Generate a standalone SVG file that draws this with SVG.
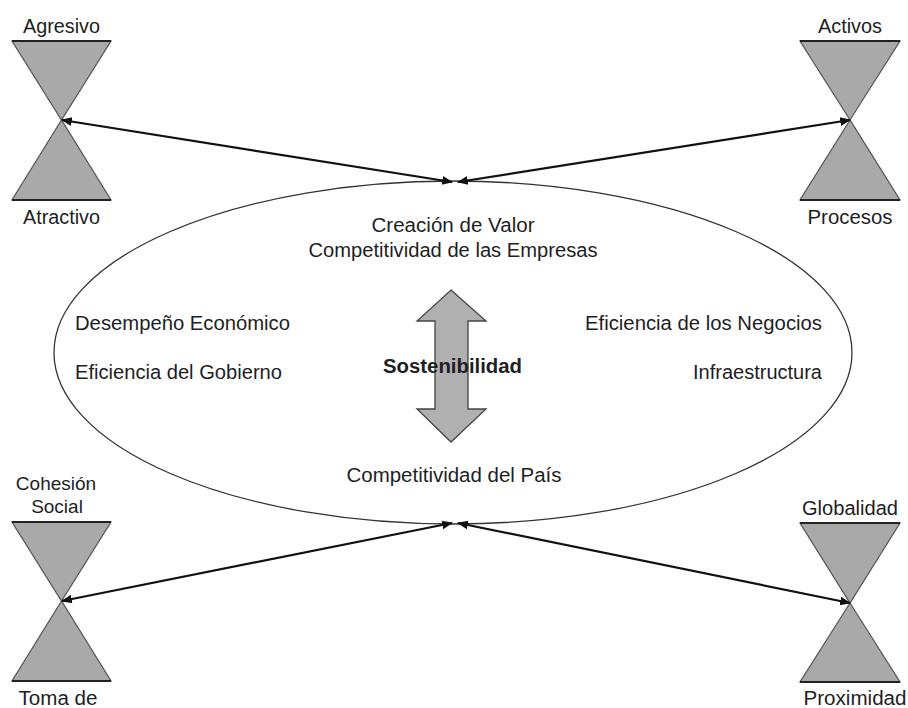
<svg xmlns="http://www.w3.org/2000/svg" width="908" height="708" viewBox="0 0 908 708">
  <style>
    .lbl { font-family: "Liberation Sans", Arial, sans-serif; font-size: 20px; fill: #1e1e24; }
    .small { font-size: 19px; }
    .bold { font-weight: bold; }
    .glass { fill: #a9a9a9; stroke: #555; stroke-width: 1.2; }
    .rim { stroke: #222; stroke-width: 2; }
    .link { stroke: #111; stroke-width: 2.2; fill: none; marker-start: url(#head); marker-end: url(#head); }
  </style>
  <defs>
    <marker id="head" viewBox="0 0 10 10" refX="9" refY="5" markerWidth="5" markerHeight="5" orient="auto-start-reverse" markerUnits="strokeWidth">
      <path d="M0,1 L10,5 L0,9 Z" fill="#111"/>
    </marker>
  </defs>
  <rect width="908" height="708" fill="#fff"/>

  <!-- central ellipse -->
  <g id="core">
    <ellipse cx="453" cy="352.5" rx="399" ry="171.5" fill="none" stroke="#333" stroke-width="1.3"/>
    <text class="lbl" x="453" y="232" text-anchor="middle" textLength="163" lengthAdjust="spacingAndGlyphs">Creación de Valor</text>
    <text class="lbl" x="453" y="257" text-anchor="middle" textLength="289" lengthAdjust="spacingAndGlyphs">Competitividad de las Empresas</text>
    <text class="lbl" x="75" y="330" textLength="215" lengthAdjust="spacingAndGlyphs">Desempeño Económico</text>
    <text class="lbl" x="75" y="379" textLength="207" lengthAdjust="spacingAndGlyphs">Eficiencia del Gobierno</text>
    <text class="lbl" x="585" y="330" textLength="237" lengthAdjust="spacingAndGlyphs">Eficiencia de los Negocios</text>
    <text class="lbl" x="693" y="379" textLength="129" lengthAdjust="spacingAndGlyphs">Infraestructura</text>
    <text class="lbl" x="454" y="482" text-anchor="middle" textLength="215" lengthAdjust="spacingAndGlyphs">Competitividad del País</text>
  </g>

  <!-- vertical double block arrow -->
  <g id="sostenibilidad">
    <polygon points="451,290 486,321 468,321 468,409 486,409 451,442 417,409 435,409 435,321 417,321" fill="#b0b0b0" stroke="#444" stroke-width="1.3"/>
    <text class="lbl bold" x="383" y="373" textLength="139" lengthAdjust="spacingAndGlyphs">Sostenibilidad</text>
  </g>

  <!-- hourglass: top left -->
  <g id="agresivo-atractivo">
    <polygon class="glass" points="12,41 111,41 61.5,120"/>
    <polygon class="glass" points="61.5,120 12,200 111,200"/>
    <line class="rim" x1="12" y1="41" x2="111" y2="41"/>
    <line class="rim" x1="12" y1="200" x2="111" y2="200"/>
    <text class="lbl" x="61.5" y="33" text-anchor="middle" textLength="77" lengthAdjust="spacingAndGlyphs">Agresivo</text>
    <text class="lbl" x="61.5" y="224" text-anchor="middle" textLength="77" lengthAdjust="spacingAndGlyphs">Atractivo</text>
  </g>

  <!-- hourglass: top right -->
  <g id="activos-procesos">
    <polygon class="glass" points="800,41 900,41 850,120"/>
    <polygon class="glass" points="850,120 800,200 900,200"/>
    <line class="rim" x1="800" y1="41" x2="900" y2="41"/>
    <line class="rim" x1="800" y1="200" x2="900" y2="200"/>
    <text class="lbl" x="850" y="33" text-anchor="middle" textLength="64" lengthAdjust="spacingAndGlyphs">Activos</text>
    <text class="lbl" x="850" y="224" text-anchor="middle" textLength="85" lengthAdjust="spacingAndGlyphs">Procesos</text>
  </g>

  <!-- hourglass: bottom left -->
  <g id="cohesion-toma">
    <polygon class="glass" points="12,522 111,522 61.5,601"/>
    <polygon class="glass" points="61.5,601 12,681 111,681"/>
    <line class="rim" x1="12" y1="522" x2="111" y2="522"/>
    <line class="rim" x1="12" y1="681" x2="111" y2="681"/>
    <text class="lbl small" x="56" y="490" text-anchor="middle">Cohesión</text>
    <text class="lbl small" x="57" y="513" text-anchor="middle">Social</text>
    <text class="lbl" x="58" y="705" text-anchor="middle" textLength="79" lengthAdjust="spacingAndGlyphs">Toma de</text>
  </g>

  <!-- hourglass: bottom right -->
  <g id="globalidad-proximidad">
    <polygon class="glass" points="800,523 900,523 850,603"/>
    <polygon class="glass" points="850,603 800,682 900,682"/>
    <line class="rim" x1="800" y1="523" x2="900" y2="523"/>
    <line class="rim" x1="800" y1="682" x2="900" y2="682"/>
    <text class="lbl" x="850" y="515" text-anchor="middle" textLength="96" lengthAdjust="spacingAndGlyphs">Globalidad</text>
    <text class="lbl" x="855" y="705" text-anchor="middle" textLength="103" lengthAdjust="spacingAndGlyphs">Proximidad</text>
  </g>

  <!-- connectors -->
  <g id="connectors">
    <line class="link" x1="62" y1="120" x2="452" y2="182"/>
    <line class="link" x1="850" y1="120" x2="458" y2="182"/>
    <line class="link" x1="62" y1="601" x2="452" y2="523"/>
    <line class="link" x1="850" y1="603" x2="458" y2="523"/>
  </g>
</svg>
